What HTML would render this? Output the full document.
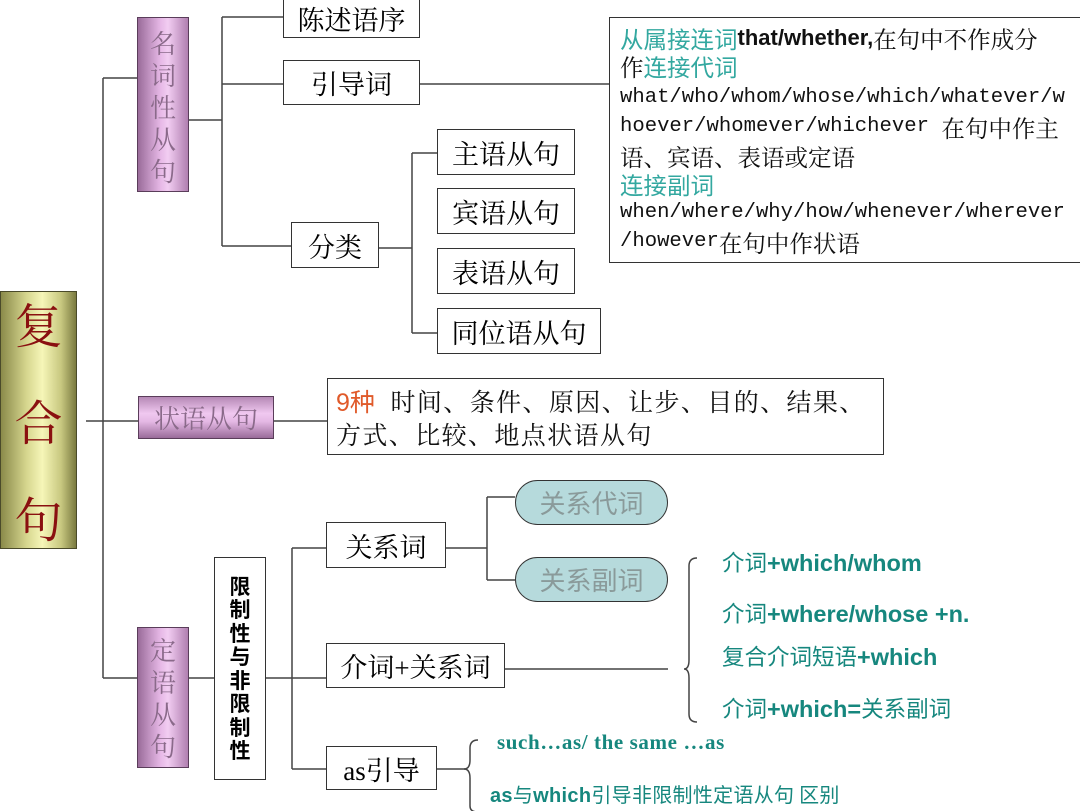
<!DOCTYPE html>
<html><head><meta charset="utf-8">
<style>
*{margin:0;padding:0;box-sizing:border-box}
body{width:1080px;height:811px;background:#fff;position:relative;overflow:hidden;font-family:"Liberation Serif","Noto Serif CJK SC","Noto Sans CJK SC",serif;color:#111}
.a{position:absolute}
.box{position:absolute;border:1.5px solid #333;background:#fff;font-size:27px;display:flex;align-items:center;justify-content:center;font-family:"Liberation Serif","Noto Serif CJK SC",serif;color:#000}
.pur{position:absolute;border:1px solid #5a3d5a;background:linear-gradient(90deg,#9a6c9a 0%,#e6b8e6 45%,#f2cdf2 60%,#b07fb0 100%);color:#8a6a8a;font-family:"Noto Serif CJK SC",serif;font-size:26px;text-align:center;line-height:31px}
.pill{position:absolute;border:1.5px solid #333;border-radius:23px;background:#b6dadc;color:#8a9a9a;font-size:26px;display:flex;align-items:center;justify-content:center;font-family:"Noto Sans CJK SC",sans-serif}
.t{color:#16877e;font-family:"Liberation Sans","Noto Sans CJK SC",sans-serif;font-weight:bold;font-size:23.5px;position:absolute;white-space:nowrap;line-height:1}
.tz{font-weight:normal;font-family:"Noto Sans CJK SC",sans-serif;font-size:22.5px}
.bl{position:absolute;white-space:nowrap;font-size:23.5px;left:620px;line-height:24px;height:24px;font-family:"Noto Serif CJK SC",serif}
.bl span,.bl b{vertical-align:top;line-height:24px}
.m{font-family:"Liberation Mono",monospace;font-size:20.6px}
.c{color:#33a8a0;font-family:"Noto Sans CJK SC",sans-serif}
</style></head><body>
<svg class="a" style="left:0;top:0" width="1080" height="811">
<g stroke="#444" stroke-width="1.5" fill="none">
<path d="M86 421H138M103 78V678M103 78H137M103 678H137"/>
<path d="M189 120H222M222 17V246M222 17H283M222 84H283M222 246H291"/>
<path d="M420 84H609"/>
<path d="M379 248H412M412 153V333M412 153H437M412 333H437"/>
<path d="M274 421H327"/>
<path d="M189 678H214M266 678H326M292 548V769M292 548H326M292 769H326"/>
<path d="M446 548H487M487 497V580M487 497H515M487 580H515"/>
<path d="M505 669H668"/>
<path d="M437 769H465"/>
<path d="M697 558Q689 558 689 566V660Q689 669 684 669Q689 669 689 678V714Q689 722 697 722"/>
<path d="M478 740Q470 740 470 748V760Q470 769 464 769Q470 769 470 778V806Q470 812 478 812"/>
</g></svg>

<div class="a" style="left:0;top:291px;width:77px;height:258px;border:1px solid #4a4a2a;background:linear-gradient(90deg,#8a8a4a 0%,#d8d890 35%,#f6f6b8 55%,#c8c880 80%,#7a7a40 100%);color:#8a1010;font-size:48px;text-align:center;font-family:'Noto Serif CJK SC',serif">
<div class="a" style="left:0;width:75px;top:-4px">复</div><div class="a" style="left:0;width:75px;top:93px">合</div><div class="a" style="left:0;width:75px;top:190px">句</div></div>

<div class="pur" style="left:137px;top:17px;width:52px;height:175px;padding-top:9px;line-height:32px">名<br>词<br>性<br>从<br>句</div>
<div class="pur" style="left:138px;top:396px;width:136px;height:43px;line-height:41px;background:linear-gradient(180deg,#b588b5 0%,#f0c8f0 40%,#e4b8e4 60%,#9a6c9a 100%)">状语从句</div>
<div class="pur" style="left:137px;top:627px;width:52px;height:141px;padding-top:6px;line-height:32px">定<br>语<br>从<br>句</div>

<div class="box" style="left:283px;top:-2px;width:137px;height:40px">陈述语序</div>
<div class="box" style="left:283px;top:60px;width:137px;height:45px">引导词</div>
<div class="box" style="left:291px;top:222px;width:88px;height:46px">分类</div>
<div class="box" style="left:437px;top:129px;width:138px;height:46px">主语从句</div>
<div class="box" style="left:437px;top:188px;width:138px;height:46px">宾语从句</div>
<div class="box" style="left:437px;top:248px;width:138px;height:46px">表语从句</div>
<div class="box" style="left:437px;top:308px;width:164px;height:46px">同位语从句</div>

<div class="a" style="left:609px;top:17px;width:472px;height:246px;border:1.5px solid #333"></div>
<div class="bl" style="top:26px"><span class="c">从属接连词</span><b style="font-family:'Liberation Sans',sans-serif;font-size:22px">that/whether,</b>在句中不作成分</div>
<div class="bl" style="top:54px">作<span class="c">连接代词</span></div>
<div class="bl m" style="top:86px">what/who/whom/whose/which/whatever/w</div>
<div class="bl" style="top:115px"><span class="m">hoever/whomever/whichever </span>在句中作主</div>
<div class="bl" style="top:144px">语、宾语、表语或定语</div>
<div class="bl c" style="top:172px">连接副词</div>
<div class="bl m" style="top:201px">when/where/why/how/whenever/wherever</div>
<div class="bl" style="top:230px"><span class="m">/however</span>在句中作状语</div>

<div class="a" style="left:327px;top:378px;width:557px;height:77px;border:1.5px solid #333"></div>
<div class="a" style="left:336px;top:386px;font-size:25px;letter-spacing:1.4px;font-family:'Noto Serif CJK SC',serif;white-space:nowrap;line-height:30px"><span style="color:#e05a2a;font-family:'Liberation Sans','Noto Sans CJK SC',sans-serif;letter-spacing:0">9种</span>&nbsp; 时间、条件、原因、让步、目的、结果、</div>
<div class="a" style="left:336px;top:419px;font-size:25px;letter-spacing:1.4px;font-family:'Noto Serif CJK SC',serif;white-space:nowrap;line-height:30px">方式、比较、地点状语从句</div>

<div class="box" style="left:214px;top:557px;width:52px;height:223px;font-size:21px;font-weight:bold;line-height:23.5px;text-align:center;font-family:'Noto Sans CJK SC',sans-serif">限<br>制<br>性<br>与<br>非<br>限<br>制<br>性</div>

<div class="box" style="left:326px;top:522px;width:120px;height:46px">关系词</div>
<div class="box" style="left:326px;top:643px;width:179px;height:45px">介词+关系词</div>
<div class="box" style="left:326px;top:746px;width:111px;height:44px">as引导</div>

<div class="pill" style="left:515px;top:480px;width:153px;height:45px">关系代词</div>
<div class="pill" style="left:515px;top:557px;width:153px;height:45px">关系副词</div>

<div class="t" style="left:722px;top:551px"><span class="tz">介词</span>+which/whom</div>
<div class="t" style="left:722px;top:602px"><span class="tz">介词</span>+where/whose +n.</div>
<div class="t" style="left:722px;top:645px"><span class="tz">复合介词短语</span>+which</div>
<div class="t" style="left:722px;top:697px"><span class="tz">介词</span>+which=<span class="tz">关系副词</span></div>
<div class="t" style="left:497px;top:732px;font-family:'Liberation Serif',serif;font-size:21px;letter-spacing:0.6px">such…as/ the same …as</div>
<div class="t" style="left:490px;top:784px;font-size:20px;letter-spacing:0.3px">as<span class="tz" style="font-size:20px">与</span>which<span class="tz" style="font-size:20px">引导非限制性定语从句 区别</span></div>
</body></html>
